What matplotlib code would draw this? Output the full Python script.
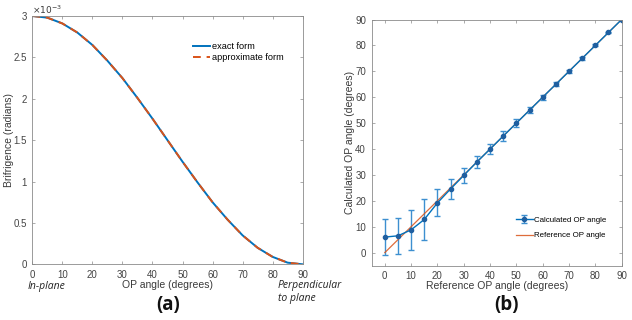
import matplotlib
matplotlib.use("Agg")
import matplotlib.pyplot as plt
import numpy as np

plt.rcParams['font.family'] = ['Liberation Sans', 'DejaVu Sans']

# Panel (a) data
op_angle = [0, 5, 10, 15, 20, 25, 30, 35, 40, 45, 50, 55, 60, 65, 70, 75, 80, 85, 90]
bire_exact = [3.00, 2.98, 2.91, 2.80, 2.65, 2.46, 2.25, 2.01, 1.76, 1.50,
              1.24, 0.99, 0.75, 0.54, 0.35, 0.20, 0.09, 0.02, 0.00]
bire_approx = [3.00, 2.98, 2.91, 2.80, 2.65, 2.46, 2.25, 2.01, 1.76, 1.50,
               1.24, 0.99, 0.75, 0.54, 0.35, 0.20, 0.09, 0.02, 0.00]

# Panel (b) data
ref_angle = [0, 5, 10, 15, 20, 25, 30, 35, 40, 45, 50, 55, 60, 65, 70, 75, 80, 85, 90]
calc_angle = [6.0, 6.5, 8.8, 12.8, 19.2, 24.6, 29.8, 35.0, 40.0, 45.0,
              50.0, 55.0, 60.0, 65.0, 70.0, 75.0, 80.0, 85.0, 90.0]
calc_err = [6.8, 7.0, 7.7, 7.8, 5.2, 3.7, 3.0, 2.5, 2.0, 1.8,
            1.5, 1.2, 1.0, 0.8, 0.6, 0.5, 0.4, 0.3, 0.2]
ref_line = [0, 90]

blue = '#0072BD'
orange = '#D95319'

fig = plt.figure(figsize=(6.32, 3.2), dpi=100)

def style(ax):
    for s in ax.spines.values():
        s.set_color('#8a8a8a')
        s.set_linewidth(0.6)
    ax.tick_params(direction='in', length=2.5, width=0.5, colors='#8a8a8a',
                   labelcolor='#444444', labelsize=7, top=True, right=True, pad=4)

# (a)
ax1 = fig.add_axes([0.0511, 0.174, 0.4278, 0.776])
ax1.plot(op_angle, bire_exact, color=blue, lw=1.4, label='exact form')
ax1.plot(op_angle, bire_approx, color=orange, lw=1.4, ls=(0, (4, 3)), label='approximate form')
ax1.set_xlim(0, 90)
ax1.set_ylim(0, 3)
ax1.set_xticks(range(0, 91, 10))
ax1.set_yticks([0, 0.5, 1, 1.5, 2, 2.5, 3])
ax1.set_yticklabels(['0', '0.5', '1', '1.5', '2', '2.5', '3'])
style(ax1)
ax1.set_xlabel('OP angle (degrees)', fontsize=7.5, color='#3a3a3a')
ax1.xaxis.set_label_coords(0.5, -0.062)
ax1.set_ylabel('Brifrigence (radians)', fontsize=7.5, color='#3a3a3a', va='center')
ax1.yaxis.set_label_coords(-0.085, 0.5)
ax1.text(0.0, 1.0, r'$\times10^{-3}$', transform=ax1.transAxes, fontsize=6.5,
         color='#3a3a3a', ha='left', va='bottom')
ax1.legend(loc='upper left', bbox_to_anchor=(0.594, 0.895), frameon=False,
           fontsize=6.6, handlelength=1.9, handletextpad=0.15, labelspacing=0.25,
           borderpad=0, borderaxespad=0)

fig.text(28 / 632, 1 - 286 / 320, 'In-plane', fontsize=7.5, style='italic',
         family=['Open Sans', 'DejaVu Sans'], color='#222222', va='center', ha='left')
fig.text(278 / 632, 1 - 292 / 320, 'Perpendicular\nto plane', fontsize=7.5, style='italic',
         family=['Open Sans', 'DejaVu Sans'], color='#222222', va='center', ha='left',
         linespacing=1.15)
fig.text(168 / 632, 1 - 305 / 320, '(a)', fontsize=13.5, fontweight='bold',
         family=['Open Sans', 'DejaVu Sans'], color='#111111', va='center', ha='center')

# (b)
ax2 = fig.add_axes([0.588, 0.170, 0.3956, 0.769])
eb = ax2.errorbar(ref_angle, calc_angle, yerr=calc_err, color=blue, lw=1.0,
                  marker='o', ms=3, mfc='#1f5fa0', mec='#1f5fa0',
                  ecolor='#3d8fd0', elinewidth=1.0, capsize=2.5, capthick=1.0,
                  label='Calculated OP angle')
rl, = ax2.plot(ref_line, ref_line, color=orange, lw=0.9, alpha=0.85, label='Reference OP angle')
ax2.set_xlim(-5, 90)
ax2.set_ylim(-5, 90)
ax2.set_xticks(range(0, 91, 10))
ax2.set_yticks(range(0, 91, 10))
style(ax2)
ax2.set_xlabel('Reference OP angle (degrees)', fontsize=7.5, color='#3a3a3a')
ax2.xaxis.set_label_coords(0.5, -0.062)
ax2.set_ylabel('Calculated OP angle (degrees)', fontsize=7.5, color='#3a3a3a', va='center')
ax2.yaxis.set_label_coords(-0.087, 0.5)
ax2.legend([eb, rl], ['Calculated OP angle', 'Reference OP angle'],
           loc='upper left', bbox_to_anchor=(0.577, 0.2), frameon=False,
           fontsize=5.7, handlelength=2.1, handletextpad=0.15, labelspacing=1.0,
           borderpad=0, borderaxespad=0)

fig.text(507 / 632, 1 - 305 / 320, '(b)', fontsize=13.5, fontweight='bold',
         family=['Open Sans', 'DejaVu Sans'], color='#111111', va='center', ha='center')

fig.savefig('out.png', dpi=100)
